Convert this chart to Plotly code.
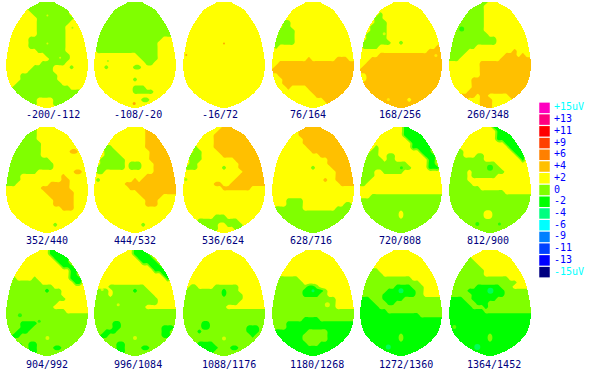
import numpy as np
import plotly.graph_objects as go

W, H = 591, 373
LABELS = ["-200/-112", "-108/-20", "-16/72", "76/164", "168/256", "260/348",
          "352/440", "444/532", "536/624", "628/716", "720/808", "812/900",
          "904/992", "996/1084", "1088/1176", "1180/1268", "1272/1360", "1364/1452"]
LEGEND_LABELS = ["+15uV", "+13", "+11", "+9", "+6", "+4", "+2", "0", "-2", "-4", "-6", "-9", "-11", "-13", "-15uV"]
LEGEND_COLORS = ["#ff00c0", "#ff0080", "#ff0000", "#ff4000", "#ff8000", "#ffc000", "#ffff00", "#80ff00",
                 "#00ff00", "#00ff80", "#00ffff", "#0080ff", "#0040ff", "#0000ff", "#000080"]
LEVELS = {"G": 0, "L": 1, "Y": 2, "O": 3}
SPOT_COLORS = {"G": "#00ff00", "L": "#80ff00", "Y": "#ffff00", "O": "#ffc000", "R": "#ff8000", "C": "#00ff80"}

A = "L" * 21
Y = "Y" * 21
O = "O" * 21
G = "G" * 21

E01 = ["YYYYYYLLLLLLLLLLY", "YYYYYLLLLLLLLLLLLY", "YYYYYYLLLLLLLLLLY", "YYYYYYYLLLLLLLLLY", "YYYYYYYYLLLLLLLLLY",
       "YYYYYYYYLLLLLLLLY", "YYYYYYYYLLLLLLLY", "YYYYYYYYLLLLLLLY", "YYYYYYYYLLLLLLLY", "YYYYYYLLLLLLLLLY",
       "YYYYYYLLLLLLLLLY", "YYYYYYLLLLLLLLLY", "YYYYYYYYLLLLLLLY", "YYYYYYYYYYLLLLLLY", "YYYYYYYYYYYLLLLLY",
       "YYYYYYYYYLLLLLLY", "YYYYYYYLLLLLYYYYLY", "YYYYYYLLLLLLY", "YYYYLLLLLLLLLY", "YYYYLLLLLLLLLY",
       "YYYLLLLLLLLLLLY", "YYLLLLLLLLLLLLLLY", "YYLLLLLLLLLLLLLLLLLY", "YYYLLLLLLLLLLLLLLLY", "YYYYLLLLYYYYLLLLLY",
       "YYYYYLLLYYYYLLLY", Y]
E02 = [A] * 9 + ["LLLLLLLLLLLLLLLLLY", "LLLLLLLLLLLLLLLLY", "LLLLLLLLLLLLLLLLY", "YLLLLLLLLLLLLLLLY", "YYYYYYYYYYYLLLLLY",
       "YYYYYYYYYYYYLLLLY", "YYYYYYYYYYYYYLLY", "YYYLYYYYYYLLY", Y, Y, "YYYYYYYYYYLY", Y, "YYYYYYYYYYLLLY",
       "YYYYYYYYYYLLLLLY", Y, "YYYYYYYYYYYYLLY", Y, Y]
E03 = ["LY"] + [Y] * 26
E04 = [Y] * 5 + ["YYYLLY", "YYYLLY", "YYLLLLY", "YYLLLLY", "YLLLLLY", "YLLLLLY", "YLY", Y, Y,
       "YYYYYYYYYOYYYYYYOOOYY", "YYO", "YO", O, "YYO", "YYYO", "YYYO", "YYYYOYYYYO",
       "YYYYYYYYYYOOOOOOOOOOY", "YYYYYYYYYYYOOOOOOOOY", "YYYYYYYYYYYYYOOOOOY", "YYYYYYYYYYYYYYOOY", Y]
E05 = [Y] * 3 + ["YYYYYLY", "YYYYLLY", "YYYYLLLY", "YYYLLLLY", "YYYLLLLY", "YYLLLLLY", "YYLLLLLY", "YLLLLLLLYYLY",
       "YLLLLYYYYYYYYYYYYYYOO", "YYYYYYYYYYYYYYYYYOOOO", "YYYYYO", "YYYO", "YYO", "YO", O, "YYO", "YYO", O, O, O, O,
       "OOOOOOOOOOOOYO", O, O]
E06 = ["YYYYYYYLLLY", "YYYYYYLLLY", "YYYYYLLLLY", "YYYYLLLLLY", "YYYLLLLLLY", "YYYLLLLLLY", "YYLLLLLLLY", "YYLLLLLLLY",
       "YYLLLLLLLLY", "YLLLLLLLLLLLY", "YLLLLLLLLLLLY", "YLLLLLLY", "LLLLLYYYYYYYYYYYOY", "LLLLYYYYYYYYYYOOOYOY",
       "LLLYYYYYYYYYYO", "YYYYYYYYO", "YYYYYYYYO", "YYYYYYYYO", "YYYYYYYYO", "YYYYYYOOOOOOOOOOOOOOY",
       "YYYYYYOOOOOOOOOOOOOOY", "YYYYYYOOOOOOOOOOOOOY", "YYYYYOOOOOOOOOOOOOOY", "YYYOOOOYOOYYYYYOOOY",
       "YYYOOYYYOOOYYYYYOY", "YYYYOYYYOOOY", "YYYYYYYYOOOY"]
E07 = ["YYYYYYYLY", "YYYYYYLLY", "YYYYYLLLY", "YYYYLLLLY", "YYYLLLLLLY", "YYYLLLLLLY", "YYLLLLLLLYYYYYYYOOY", "YYLLLLLLLY",
       "YYLLLLLLLLLY", "YLLLLLLLLLLLY", "YLLLLLLLLLLLY", "YLLLLLLLYYYYYYYYYOOY", "LLLLYYYYYYYYYYOY", "LLLLYYYYYYYYYYOOY",
       "LLLYYYYYYYYOOOOOY", "YYYYYYYYYOOOOOOOY", "YYYYYYYYYYOOOOOOOY", "YYYYYYYYYYYOOOOOOY", "YYYYYYYYYYYYOOOOOY",
       "YYYYYYYYYYYYOOOOOY", "YYYYYYYYYYYYYYOOOY", Y, Y, Y, "YYYYYYYYYYYYLY", Y, Y]
E08 = ["YYYYYYYYYYYYYOOOY", "YYYYYYYYYYYYYO", "YYYYYYYYYYYYYO", "YYYYYYYYYYYYYO", "YYYYYYYYYYYYYO", "YYYLLYYYYYYYYO",
       "YYYLLLYYYYYYYYO", "YYYLLLLYYYYYYYO", "YYLLLLLLYYYYYYO", "YYLLLLLLYLLLYYYO", "YLLLLLLLYLLLYYYO", "YLLYYYYYYYYYYYYO",
       "YYYYYYYYYYYYYO", "YLYYYYYYYYOYO", "YYYYYYYYO", "YYYYYYYYYO", "YYYYYYYYYYYO", "YYYYYYYYYYYYOOOOOY", "YYYYYYYYYYYYYOOOY",
       "YYYYYYYYYYYYYOOOY", Y, Y, Y, Y, "YYYYYYYYYYYYLY", Y, Y]
E09 = ["YYYYYYYYYYOOOOY", "YYYYYYYYYOOOOOOOY", "YYYYYYYYO", "YYYYYYYYO", "YYYYYYYYO", "YYYLYYYYO", "YYYLLYYYYO", "YYLLLYYYYYO",
       "YYLLLYYYYYYYYO", "YYLLYYYYYYYYYYO", "YLLLYYYYYYLYYYO", "YYYYYYYYYYYYYYYO", "YYYYYYYYYYYYYYO", "YYYYYYYYYYYYYO",
       "YYYYYYYYOOYYO", "YYYYYYYYYYOOOOOOOY", Y, Y, Y, Y, Y, Y, "YYYYYYYYLLLY", "YYYYLLLLLLLLLLY", "YYYYLLLLLYYLLLLY",
       "YYYYYYLLLYYYYLLY", Y]
E10 = ["YYYYYYYOOOOOOY", "YYYYYYYOOOOOOOOY", "YYYYYYYOOOOOOOOOOY", "YYYYYYYYO", "YYYYYYYYO", "YYYYYYYYYO", "YYYYYYYYYYO",
       "YYYYYYYYYYYYO", "YYYYYYYYYYYYYYO", "YYYYYYYYYYYYYYO", "YYYYYYYYYYLYYYYO", "YYYYYYYYYYYYYYYYO", "YYYYYYYYYYYYYYYYO",
       "YYYYYYYYYYYYYOYYO", "YYYYYYYYYYYYYYYYYO", Y, Y, Y, "YYYYLLLLY", "YYYYLLLLYYYYYYYYYYLLY", "YLLLLLLLYYYYYYYYL",
       A, A, A, A, A, A]
E11 = ["YYYYYYYYYYYGGGY", "YYYYYYYYYYYGGGGGY", "YYYYYYYYYYYGGGGGY", "YYYYYYYYYYYYGGGGGY", "YYYYYYYYYYYYYGGGGGY", "YYYYLYYYYYYYYGGGGGY",
       "YYYLLYYYYYYYYYYGGGY", "YYLLLYYLLYYYYYYYGGGY", "YYLLLLYLLYYYYYYYYGGY", "YLLLLLLLLLLLYYYYYGGY", "YLLLLLLLLLLLLYYYYGGGY",
       "YLLLYYLLLLLY", "LLLLY", "LLLY", "LLY", Y, Y, "YYYL", A, A, A, "LLLLLLLLLLYL", "LLLLLLLLLLYL", A, A, A, A]
E12 = ["YYYYYYYYYYYGGGY", "YYYYYYYYYYYYGGGY", "YYYYYYYYYYYYGGGGY", "YYYYYYYYYYYYGGGGGY", "YYYYYYYYYYYYYYGGGGY", "YYYYYYYYYYYYYYYGGGY",
       "YYLLYYYYYYYYYYYYGGGY", "YYLLYYYLLYYYYYYYYGGY", "YYLLLLLLLYYYYYYYYYGY", "YLLLLLLLLLLLY", "YLLLLLLLLLLLLY", "YLLLLYLLLLLLLLY",
       "LLLLLYLLLLLLY", "LLLLLY", "LLLLLLY", "LLLLLLLLY", "LLLLLLLLLLLLLLY", A, A, A, A, "LLLLLLLLLYYL", "LLLLLLLLLYYL", A, A, A, A]
E13 = ["YYYYYYYYYYYGGGY", "YYYYYYYYYYYGGGGY", "YYYYYYYYYYYYGGGGY", "YYYYYYYYYYYYYGGGY", "YYYYYYYYYYYYYYGGGY", "YYYYYYYYYYYYYYYYGGY",
       "YYYYYYYYYYYYYYYYGGY", "YYLYYYYLYYYYYYYYGGGY", "YYLLLLLLLYYYYYYYYGGY", "YLLLLLLLLLLLY", "YLLLLLLLLLGLLLY", "LLLLLLLLLLLLLLY",
       "LLLLLLLLLLLLLLLY", "LLLLLLLLLLLLLY", "LLLLLLLLLLLLY", "LLLLLLLLLLLLLLLY", A, A, "LLLLGGGGL", "LLLLGGGL", "LLLGGGL", "LLGGL", A,
       "LLLLLLGGL", "LLLLLLGGLLLLGGL", "LLLLLLGGL", A]
E14 = ["YYYYYYYYYYGGGY", "YYYYYYYYYYGGGGY", "YYYYYYYYYYYGGGGY", "YYYYYYYYYYYYGGGGY", "YYYYYYYYYYYYYYGGGY", "YYYYYYYYYYYYYYYGGGY",
       "YYYYYYYYYYYYYYYYYGGY", "YYYYYYYYYYYYYYYYYYGY", Y, "YYYYLLLLLLLLLY", "LLLLYLLLLLGLLLY", "LLLLYLLLLLLLLLLY", "LLLLLLLLLLLLLLLLY",
       "LLLLLLLLLLLLLLLLY", "LLLLLLLLLLLLLY", A, A, A, "LLLLLGGL", "LLLLLGGLLLLLLLLLLGGGL", "LLLGGGLLLLLLLLLLLGGL", "LLGGLLLLLLLLLLLLLGGL",
       A, "LLLLLLGGL", "LLLLLLGGLLLLGGL", "LLLLLLGGL", A]
E15 = [Y] * 9 + ["YYLLYYYYLLLLLLY", "YLLLLLLLLLGLLLY", "YLLLLLLLLLGLLLLY", "LLLLLLLLLLLLLLLY", "LLLLLLLLLLLLLLY", "LLLLLLLLLLLY", A, A, A,
       "LLLLLGGL", "LLLLLGGLLLLLLLLLGGGL", "LLLLGLLLLLLLLLLLGGGL", "LLLLLLLLLLLLLLLLLGL", A, "LLLLGGGGL", "LLLLGGGGGLLLGGL", "LLLLLLGGL", A]
E16 = [Y] * 7 + ["YYLLLLLY", "YYLLLLLLY", "YLLLLLLLLGGLY", "LLLLLLLLGGGGGLY", "LLLLLLLLGGGGLLY", "LLLLLLLLLLLLLLLLY", "LLLLLLLLLLLLLLLLY",
       "LLLLLLLLLLLLLLLLY", A, A, "LLLLLLLLGGGGL", "LLLLG", "LLLLG", "LGGGGGGGGLLLLLG", "GGGGGGGGLLLLLLG", "GGGGGGGGLLLLLLG",
       "GGGGGGGGGLLLG", G, G, G]
E17 = [Y] * 5 + ["LLLLLY", "LLLLLLY", "LLLLLLLLLLLLLY", "LLLLLLLLLLLLLLLY", "LLLLLLLLLGGGGLLLY", "LLLLLLLGGGGGGGLLY", "LLLLLLGGGGGGGGLLY",
       "GGGLLLGGGGGL", "GGGGLLLGGL", "GGGGGL", "GGGGGGGL", "GGGGGGGGGGGGGGGL", G, G, G, G, "GGGGGGGGGGLG", "GGGGGGGGGGLG", G, G, G, G]
E18 = [Y, Y, "LLLLLLY", "LLLLLLLY", "LLLLLLLLY", "LLLLLLLLLY", "LLLLLLLLLY", "LLLLLLLLLLLLLLLY", "LLLLLLLLLLLLLLLLLY", "LLLLLLLGGGGGGLLLY",
       "LLLLLGGGGGGGGGL", "LLLLLLGGGGGGGGL", "GGGGLLGGGGGGL", "GGGGGLLGGGL", "GGGGGGLLLGL", "GGGGGGGGGL", G, G, G, G, G, "GGGGGGGGGGLG",
       "GGGGGGGGGGLG", G, G, G, G]
EGGS = [E01, E02, E03, E04, E05, E06, E07, E08, E09, E10, E11, E12, E13, E14, E15, E16, E17, E18]

# small isolated blobs: egg index, column, row, size, level letter
SPOTS = [(0, 10.1, 3.3, 2, "Y"), (0, 10.1, 10.2, 2, "Y"), (0, 16.2, 6.3, 2, "L"), (0, 13.2, 13.7, 2, "Y"),
         (1, 9.8, 24.9, 3, "R"), (1, 3.4, 14.5, 2, "L"), (2, 10, 10.2, 2, "R"), (2, 0.8, 13, 2, "R"),
         (4, 5.9, 7.8, 3, "Y"), (4, 18.5, 13.1, 3, "Y"), (4, 6.9, 23.9, 3, "Y"), (5, 3.1, 6.6, 5, "G"),
         (8, 0.7, 12.9, 3, "L"), (10, 10.1, 10, 3, "G"), (11, 10, 10, 6, "G"), (11, 6.9, 23.8, 4, "G"),
         (11, 12.3, 23.8, 3, "G"), (12, 10.1, 21.6, 4, "Y"), (12, 3.4, 16, 4, "G"), (12, 8.1, 17.5, 3, "G"),
         (12, 3.4, 23.3, 4, "G"), (13, 5.9, 13.4, 3, "Y"), (13, 10, 21.6, 4, "Y"), (13, 2, 9.7, 3, "Y"),
         (14, 10, 21.7, 4, "Y"), (15, 10, 10, 3, "C"), (15, 13.5, 13.4, 5, "Y"), (16, 10, 10, 5, "C"),
         (16, 6.9, 23.8, 5, "C"), (17, 10.1, 10, 6, "C"), (17, 6.9, 23.8, 6, "C"), (17, 1.3, 18.9, 4, "L")]

EGG_LEFT = [6, 94, 183, 272, 360, 449]
EGG_TOP = [2, 127, 250]
EGG_W, EGG_H = 82, 106
LABEL_LEFT = [25, 113, 201, 289, 378, 466]
LABEL_Y = [114, 240, 364]

# egg outline: half width in columns at given rows
OUT_R = [0, 1.0, 1.8, 3.0, 4.3, 5.9, 7.5, 10.0, 12.5, 14.9, 17.4, 19.0, 20.7, 22.3, 23.5, 24.8, 25.6, 26]
OUT_W = [1.6, 3.5, 4.8, 5.85, 6.7, 7.7, 8.5, 9.2, 9.7, 10.0, 9.85, 9.5, 8.7, 7.4, 5.9, 3.9, 1.8, 0.6]


def egg_path():
    # stepped outline, one screen pixel per step, like the rasterised head shape
    dr, dc = 26 / EGG_H, 20 / EGG_W
    edges = np.arange(0, EGG_H + 1) * dr
    mids = (edges[:-1] + edges[1:]) / 2
    w = np.round(np.interp(mids, OUT_R, OUT_W) / dc) * dc
    left = [(10 - a, p) for a, b, q in zip(w, edges[:-1], edges[1:]) for p in (b, q)]
    right = [(10 + a, p) for a, b, q in zip(w[::-1], edges[1:][::-1], edges[:-1][::-1]) for p in (b, q)]
    pts = left + right
    return "M-1,-1 L21,-1 L21,27 L-1,27 Z M" + " L".join(f"{x:.3f},{y:.3f}" for x, y in pts) + " Z"


scale = [[0, "#00ff00"], [1 / 6, "#00ff00"], [1 / 6, "#80ff00"], [1 / 2, "#80ff00"],
         [1 / 2, "#ffff00"], [5 / 6, "#ffff00"], [5 / 6, "#ffc000"], [1, "#ffc000"]]

fig = go.Figure()
layout = dict(width=W, height=H, autosize=False, margin=dict(l=0, r=0, t=0, b=0),
              paper_bgcolor="white", plot_bgcolor="white", showlegend=False)
shapes, annotations = [], []
path = egg_path()
for i, rows in enumerate(EGGS):
    n = i + 1
    xn, yn = f"x{n}", f"y{n}"
    col, row = i % 6, i // 6
    left, top = EGG_LEFT[col], EGG_TOP[row]
    z = [[LEVELS[c] for c in r.ljust(21, r[-1])] for r in rows]
    fig.add_trace(go.Contour(z=z, xaxis=xn, yaxis=yn, zmin=0, zmax=3, zauto=False, colorscale=scale, showscale=False,
                             autocontour=False, contours=dict(coloring="fill", start=0.5, end=2.5, size=1, showlines=False),
                             line=dict(width=0), hoverinfo="skip"))
    sp = [s for s in SPOTS if s[0] == i]
    if sp:
        fig.add_trace(go.Scatter(x=[s[1] for s in sp], y=[s[2] for s in sp], xaxis=xn, yaxis=yn, mode="markers",
                                 marker=dict(size=[s[3] for s in sp], symbol="circle", line=dict(width=0),
                                             color=[SPOT_COLORS[s[4]] for s in sp]), hoverinfo="skip"))
    ax = dict(visible=False, showgrid=False, zeroline=False, fixedrange=True)
    layout[f"xaxis{n}"] = dict(ax, domain=[left / W, (left + EGG_W) / W], range=[0, 20], anchor=yn)
    layout[f"yaxis{n}"] = dict(ax, domain=[1 - (top + EGG_H) / H, 1 - top / H], range=[26, 0], anchor=xn)
    shapes.append(dict(type="path", path=path, xref=xn, yref=yn, fillcolor="white", line=dict(width=0), layer="above"))
    annotations.append(dict(text=LABELS[i], xref="paper", yref="paper", x=LABEL_LEFT[col] / W, y=1 - LABEL_Y[row] / H,
                            xanchor="left", yanchor="middle", showarrow=False, borderpad=0,
                            font=dict(family="DejaVu Sans Mono", size=10, color="#000080")))

fig.add_trace(go.Scatter(x=[5.5] * 15, y=list(range(15)), xaxis="x19", yaxis="y19", mode="markers",
                         marker=dict(symbol="square", size=10.5, color=LEGEND_COLORS, line=dict(width=0)),
                         hoverinfo="skip", cliponaxis=False))
fig.add_trace(go.Scatter(x=[15] * 15, y=list(range(15)), xaxis="x19", yaxis="y19", mode="text",
                         text=LEGEND_LABELS, textposition="middle right",
                         textfont=dict(family="DejaVu Sans Mono", size=10,
                                       color=["#00ffff"] + ["#0000ff"] * 13 + ["#00ffff"]),
                         hoverinfo="skip", cliponaxis=False))
layout["xaxis19"] = dict(visible=False, domain=[539 / W, 1], range=[0, 52], anchor="y19", fixedrange=True)
layout["yaxis19"] = dict(visible=False, domain=[1 - 278 / H, 1 - 102 / H], range=[14.5, -0.5], anchor="x19", fixedrange=True)
layout["shapes"] = shapes
layout["annotations"] = annotations
fig.update_layout(**layout)
fig.write_html("out.html", config={"displayModeBar": False},
               post_script="document.body.style.margin='0';")
